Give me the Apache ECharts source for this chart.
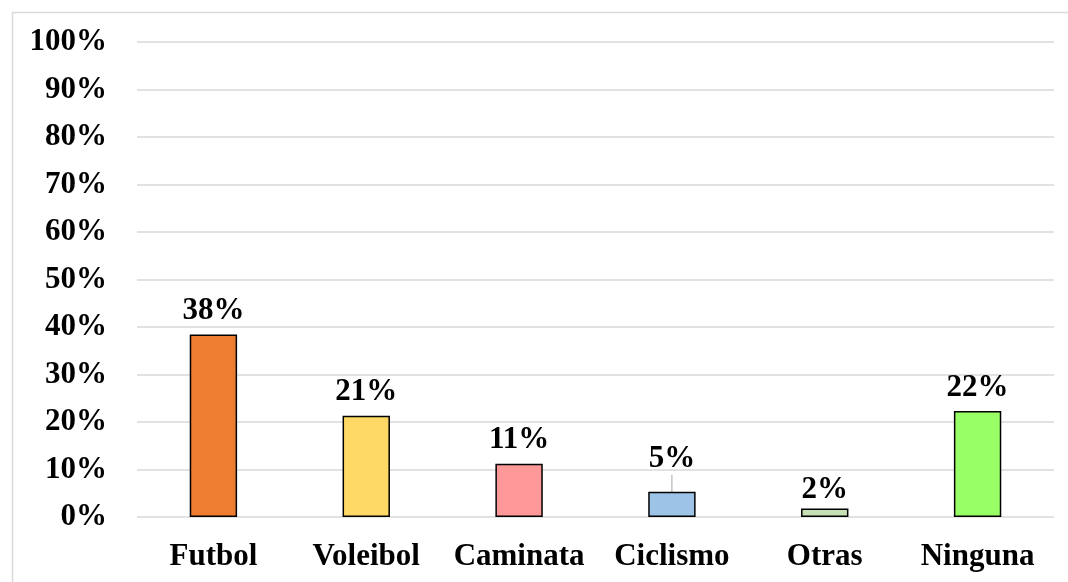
<!DOCTYPE html>
<html>
<head>
<meta charset="utf-8">
<script src="https://cdn.jsdelivr.net/npm/echarts@6/dist/echarts.min.js"></script>
<style>
  html, body { margin: 0; padding: 0; background: #fff; }
  #chart { width: 1068px; height: 582px; }
</style>
</head>
<body>
<div id="chart"></div>
<script>
var categories = ['Futbol', 'Voleibol', 'Caminata', 'Ciclismo', 'Otras', 'Ninguna'];
var values = [38.4, 21.3, 11.2, 5.3, 1.8, 22.3];
var labels = ['38%', '21%', '11%', '5%', '2%', '22%'];
var colors = ['#ED7D31', '#FFD966', '#FF9999', '#9DC3E6', '#C5E0B4', '#99FF66'];

var font = '"Liberation Serif", "Times New Roman", serif';

var data = [];
for (var i = 0; i < values.length; i++) {
    data.push({
        value: values[i],
        itemStyle: { color: colors[i] },
        labelLine: { show: i === 3, lineStyle: { color: '#a6a6a6', width: 1 } }
    });
}

var myChart = echarts.init(document.getElementById('chart'));
myChart.setOption({
    animation: false,
    graphic: [{
        type: 'rect',
        shape: { x: 12.5, y: 12.5, width: 1200, height: 700 },
        style: { fill: null, stroke: '#d9d9d9', lineWidth: 1.5 },
        silent: true
    }],
    grid: { left: 137, right: 14, top: 42, bottom: 65 },
    xAxis: {
        type: 'category',
        data: categories,
        axisLine: { show: false },
        axisTick: { show: false },
        axisLabel: {
            interval: 0,
            margin: 24,
            fontFamily: font,
            fontWeight: 'bold',
            fontSize: 31,
            color: '#000'
        }
    },
    yAxis: {
        type: 'value',
        min: 0,
        max: 100,
        interval: 10,
        axisLine: { show: false },
        axisTick: { show: false },
        splitLine: { lineStyle: { color: '#d9d9d9', width: 1.5 } },
        axisLabel: {
            margin: 30,
            formatter: '{value}%',
            fontFamily: font,
            fontWeight: 'bold',
            fontSize: 31,
            color: '#000'
        }
    },
    series: [{
        type: 'bar',
        data: data,
        barWidth: '31%',
        itemStyle: { borderColor: '#000', borderWidth: 1.5 },
        label: {
            show: true,
            position: 'top',
            distance: 8,
            formatter: function (p) { return labels[p.dataIndex]; },
            fontFamily: font,
            fontWeight: 'bold',
            fontSize: 31,
            color: '#000'
        },
        labelLayout: function (p) {
            if (p.dataIndex === 3) return { dy: -9 };
            if (p.dataIndex === 4) return { dy: 5 };
            return {};
        }
    }]
});
</script>
</body>
</html>
